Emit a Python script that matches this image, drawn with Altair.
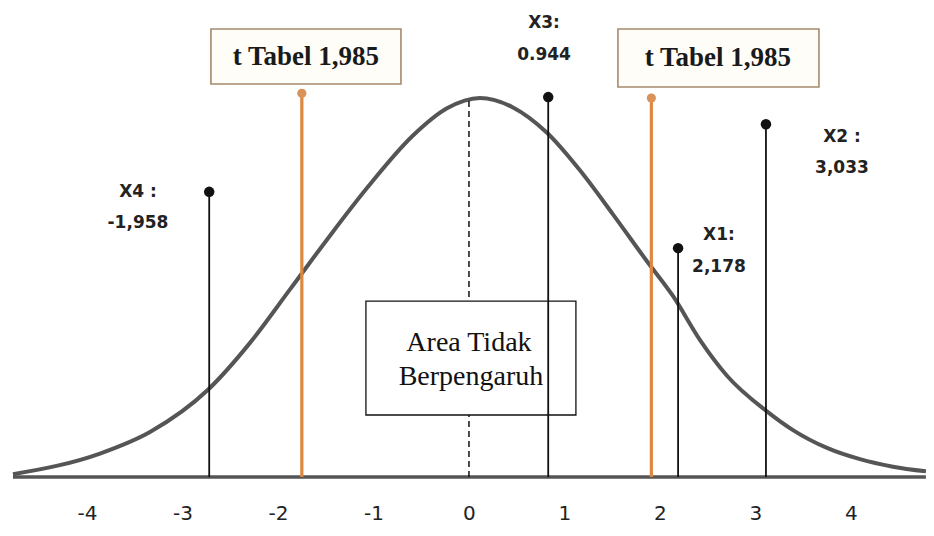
import altair as alt
import pandas as pd

# ---- data ----
ticks = [-4, -3, -2, -1, 0, 1, 2, 3, 4]

curve_x = [-4.775, -3.864, -3.340, -2.733, -2.293, -1.874, -1.487, -1.068, -0.586,
           -0.230, 0.115, 0.461, 0.817, 1.162, 1.508, 1.864, 2.136, 2.420, 2.702,
           3.120, 3.393, 3.749, 4.094, 4.440, 4.785]
curve_y = [0.003, 0.025, 0.048, 0.093, 0.143, 0.200, 0.253, 0.308, 0.364,
           0.393, 0.404, 0.394, 0.367, 0.327, 0.280, 0.230, 0.193, 0.146, 0.108,
           0.070, 0.050, 0.031, 0.019, 0.011, 0.006]

black_x = [-2.72, 0.83, 2.19, 3.11]
black_top = [0.304, 0.405, 0.244, 0.376]

orange_x = [-1.75, 1.91]
orange_top = [0.409, 0.404]

label_name = ["X4 :", "X3:", "X1:", "X2 :"]
label_value = ["-1,958", "0.944", "2,178", "3,033"]
label_x = [-3.466, 0.786, 2.618, 3.906]
label_name_y = [0.304, 0.484, 0.258, 0.362]
label_value_y = [0.271, 0.450, 0.224, 0.329]

ttabel_text = ["t Tabel 1,985", "t Tabel 1,985"]
ttabel_x1 = [-2.702, 1.560]
ttabel_x2 = [-0.712, 3.665]
ttabel_y1 = [0.4776, 0.4776]
ttabel_y2 = [0.4190, 0.4158]
ttabel_tx = [-1.707, 2.607]
ttabel_ty = [0.4478, 0.4467]

area_lines = ["Area Tidak", "Berpengaruh"]
area_tx = [0.0, 0.021]
area_ty = [0.1429, 0.1066]
area_box = [-1.079, 1.120, 0.1876, 0.0661]

zero_line_top = 0.402

# ---- scales ----
xs = alt.Scale(domain=[-4.827, 4.786], nice=False, zero=False)
ys = alt.Scale(domain=[0, 0.5], nice=False, zero=False)
xaxis = alt.Axis(values=ticks, domain=False, ticks=False, grid=False, labelFontSize=20,
                 labelFont="DejaVu Sans", labelColor="#222222", labelPadding=26,
                 labelExpr="'' + datum.value", title="")


def X(f):
    return alt.X(f, type="quantitative", scale=xs, axis=xaxis, title="")


def Y(f):
    return alt.Y(f, type="quantitative", scale=ys, axis=None)


curve_df = pd.DataFrame({"x": curve_x, "y": curve_y})
base_df = pd.DataFrame({"x": [curve_x[0]], "x2": [curve_x[-1]], "y": [0.0]})
zero_df = pd.DataFrame({"x": [0.0], "y": [0.0], "y2": [zero_line_top]})
black_df = pd.DataFrame({"x": black_x, "y": [0.0] * len(black_x), "top": black_top})
orange_df = pd.DataFrame({"x": orange_x, "y": [0.0] * len(orange_x), "top": orange_top})
lab_df = pd.DataFrame({"x": label_x, "name": label_name, "value": label_value,
                       "ny": label_name_y, "vy": label_value_y})
tt_df = pd.DataFrame({"t": ttabel_text, "x1": ttabel_x1, "x2": ttabel_x2,
                      "y1": ttabel_y1, "y2": ttabel_y2, "tx": ttabel_tx, "ty": ttabel_ty})
area_df = pd.DataFrame({"x1": [area_box[0]], "x2": [area_box[1]],
                        "y1": [area_box[2]], "y2": [area_box[3]]})
area_t_df = pd.DataFrame({"t": area_lines, "x": area_tx, "y": area_ty})

baseline = alt.Chart(base_df).mark_rule(color="#555555", strokeWidth=3.5).encode(
    x=X("x"), x2="x2", y=Y("y"))

curve = alt.Chart(curve_df).mark_line(color="#555555", strokeWidth=4,
                                      interpolate="monotone").encode(x=X("x"), y=Y("y"))

zero = alt.Chart(zero_df).mark_rule(color="#111111", strokeWidth=1.5,
                                    strokeDash=[6, 4]).encode(x=X("x"), y=Y("y"), y2="y2")

area_box_l = alt.Chart(area_df).mark_rect(fill="white", stroke="#111111",
                                          strokeWidth=1.3).encode(
    x=X("x1"), x2="x2", y=Y("y1"), y2="y2")

area_text = alt.Chart(area_t_df).mark_text(font="Liberation Serif", fontSize=28,
                                           color="#111111", align="center",
                                           baseline="middle").encode(
    x=X("x"), y=Y("y"), text="t")

black_stems = alt.Chart(black_df).mark_rule(color="#111111", strokeWidth=1.8).encode(
    x=X("x"), y=Y("y"), y2="top")
black_dots = alt.Chart(black_df).mark_circle(color="#111111", size=110, opacity=1).encode(
    x=X("x"), y=Y("top"))

orange_stems = alt.Chart(orange_df).mark_rule(color="#e0873f", strokeWidth=3.2).encode(
    x=X("x"), y=Y("y"), y2="top")
orange_dots = alt.Chart(orange_df).mark_circle(color="#d9935a", size=85, opacity=1).encode(
    x=X("x"), y=Y("top"))

tt_box = alt.Chart(tt_df).mark_rect(fill="#fffdf8", stroke="#a58a6c",
                                    strokeWidth=1.6).encode(
    x=X("x1"), x2="x2", y=Y("y1"), y2="y2")
tt_text = alt.Chart(tt_df).mark_text(font="Liberation Serif", fontSize=27, fontWeight="bold",
                                     color="#1a1a1a", align="center",
                                     baseline="middle").encode(
    x=X("tx"), y=Y("ty"), text="t")

lab_name = alt.Chart(lab_df).mark_text(font="DejaVu Sans", fontSize=17, fontWeight="bold",
                                       color="#222222", align="center",
                                       baseline="middle").encode(
    x=X("x"), y=Y("ny"), text="name")
lab_val = alt.Chart(lab_df).mark_text(font="DejaVu Sans", fontSize=17, fontWeight="bold",
                                      color="#222222", align="center",
                                      baseline="middle").encode(
    x=X("x"), y=Y("vy"), text="value")

chart = alt.layer(
    baseline, curve, zero, area_box_l, area_text, black_stems, black_dots,
    orange_stems, orange_dots, tt_box, tt_text, lab_name, lab_val
).properties(
    width=918, height=469,
    autosize=alt.AutoSizeParams(type="none"),
    padding={"left": 0, "right": 0, "top": 0, "bottom": 50},
    background="white",
).configure_view(strokeWidth=0)

chart.save("out.html", embed_options={"renderer": "svg", "actions": False})
